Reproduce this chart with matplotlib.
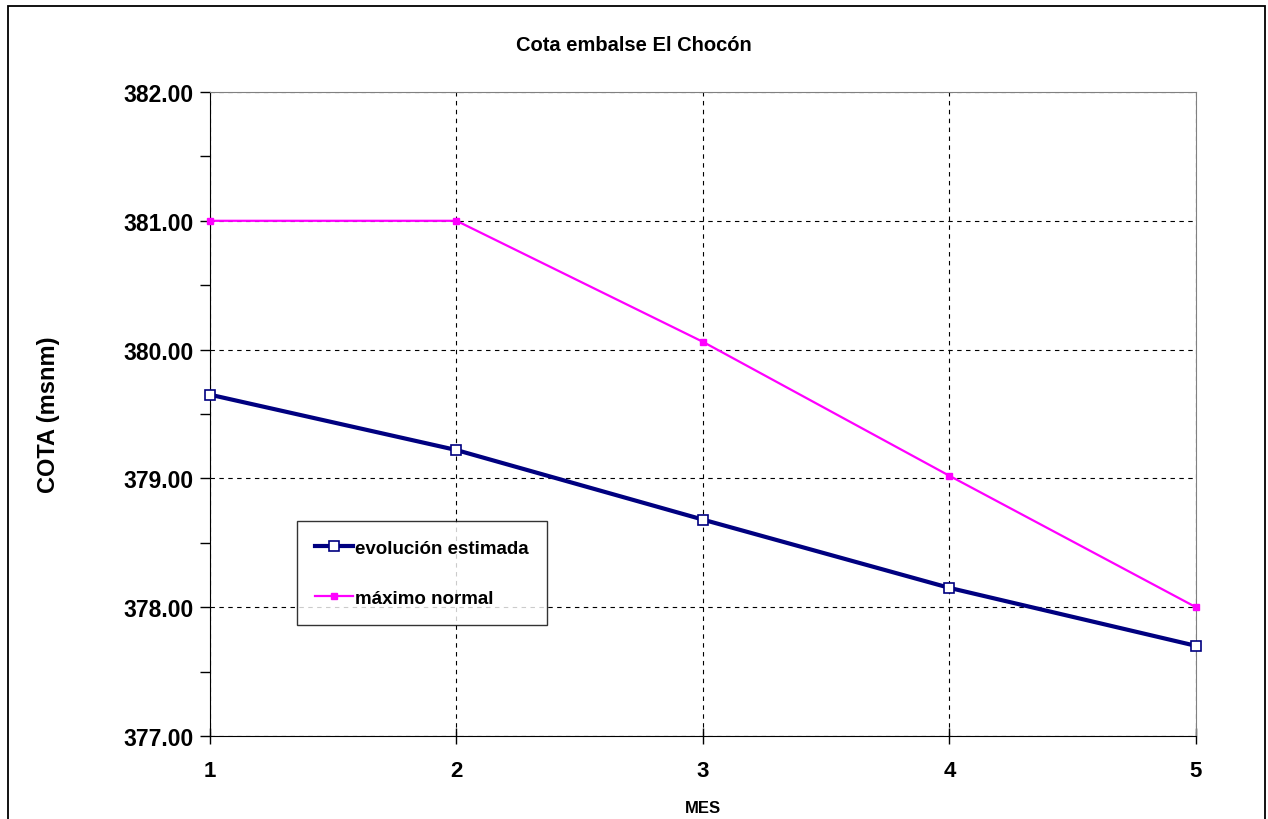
import matplotlib
matplotlib.use("Agg")
import matplotlib.pyplot as plt
from matplotlib.patches import Rectangle
from matplotlib.ticker import MultipleLocator

plt.rcParams['font.family'] = ['Liberation Sans', 'DejaVu Sans']

# data
mes = [1, 2, 3, 4, 5]
evolucion = [379.65, 379.22, 378.68, 378.15, 377.70]
maximo = [381.00, 381.00, 380.06, 379.02, 378.00]

fig = plt.figure(figsize=(12.68, 8.2), dpi=100)
ax = fig.add_axes([0.1656, 0.1012, 0.7776, 0.7854])

ax.plot(mes, evolucion, color='#000080', lw=3, marker='s', ms=7,
        mfc='white', mec='#000080', mew=1.2, label='evolución estimada',
        zorder=4, clip_on=False)
ax.plot(mes, maximo, color='#FF00FF', lw=1.6, marker='s', ms=5,
        mfc='#FF00FF', mec='#FF00FF', label='máximo normal',
        zorder=3, clip_on=False)

ax.set_xlim(1, 5)
ax.set_ylim(377, 382)
ax.set_xticks(mes)
ax.yaxis.set_major_locator(MultipleLocator(1))
ax.yaxis.set_minor_locator(MultipleLocator(0.5))
ax.yaxis.set_major_formatter(matplotlib.ticker.FormatStrFormatter('%.2f'))

ax.grid(True, which='major', color='black', ls=(0, (4, 4)), lw=0.8)
ax.set_axisbelow(True)
ax.spines['top'].set_color('#808080')
ax.spines['right'].set_color('#808080')
ax.tick_params(axis='y', which='major', direction='out', length=7, width=1,
               labelsize=16.5, pad=5)
ax.tick_params(axis='y', which='minor', direction='out', length=7, width=1)
ax.tick_params(axis='x', direction='inout', length=12, width=1, labelsize=16, pad=11)
for lab in ax.get_xticklabels() + ax.get_yticklabels():
    lab.set_fontweight('bold')

ax.set_xlabel('MES', fontsize=12, fontweight='bold', labelpad=14)
ax.set_ylabel('COTA (msnm)', fontsize=17, fontweight='bold')
ax.yaxis.set_label_coords(-0.152, 0.5)
fig.text(0.5, 0.945, 'Cota embalse El Chocón', ha='center', va='center',
         fontsize=14.5, fontweight='bold')

leg = ax.legend(loc='upper left', bbox_to_anchor=(0.088, 0.334), frameon=True,
                fancybox=False, edgecolor='black',
                prop={'weight': 'bold', 'size': 13.5}, handlelength=2.0,
                handletextpad=0.1, labelspacing=1.75, borderpad=1.0,
                borderaxespad=0)
leg.get_frame().set_linewidth(1)

fig.patches.append(Rectangle((0.0063, -0.01), 0.9915, 1.0015, transform=fig.transFigure,
                             fill=False, edgecolor='black', lw=1.3))

fig.savefig('out.png', dpi=100)
